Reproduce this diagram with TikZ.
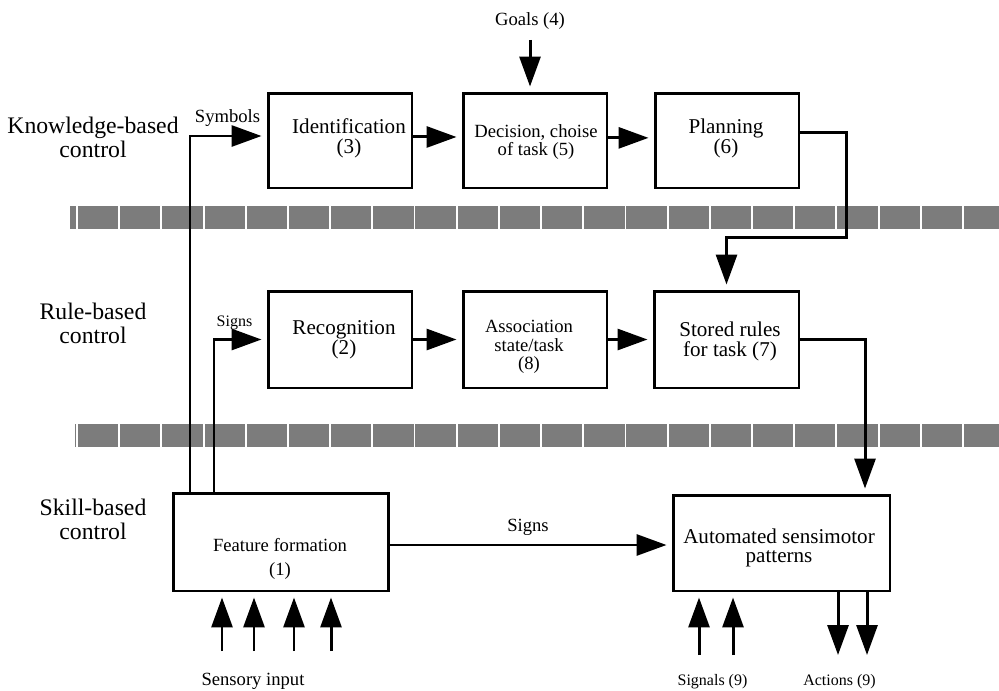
\documentclass[tikz,border=0pt]{standalone}
\usepackage{fontspec}
\setmainfont{Liberation Serif}
\usetikzlibrary{arrows.meta}
\definecolor{barfill}{RGB}{124,124,124}
\newcommand{\boxlines}{\lineskiplimit=-20pt\relax}

\begin{document}
\begin{tikzpicture}[x=0.02cm, y=-0.02cm, line width=1.7pt,
  >={Triangle[length=0.6cm, width=0.42cm]},
  box/.style={draw, line width=1.7pt, inner sep=0pt},
  lvl/.style={align=center, font=\fontsize{13.5}{13.7}\selectfont\boxlines},
  big/.style={align=center, font=\fontsize{12}{#1}\selectfont\boxlines},
  big/.default=12pt,
  mid/.style={align=center, font=\fontsize{10.6}{#1}\selectfont\boxlines},
  mid/.default=12pt,
  sml/.style={font=\fontsize{9.1}{10}\selectfont},
  arr/.style={->, shorten >=0.1cm},
  ]
  \useasboundingbox (0,0) rectangle (999,690);
  % level names
  \node[lvl] (knowledge) at (93,137) {Knowledge-based\\control};
  \node[lvl] (rule) at (93,323.5) {Rule-based\\control};
  \node[lvl] (skill) at (93,519.5) {Skill-based\\control};
  % boxes : knowledge level
  \node[box, minimum width=2.88cm, minimum height=1.9cm] (ident) at (340,140.5) {};
  \node[box, minimum width=2.88cm, minimum height=1.9cm] (decide) at (535,140.5) {};
  \node[box, minimum width=2.88cm, minimum height=1.9cm] (plan) at (727,140.5) {};
  \node[big=11.2pt] (identtxt) at (349,138) {Identification\\(3)};
  \node[mid=10.6pt] (decidetxt) at (536,142) {Decision, choise\\of task (5)};
  \node[big=11.4pt] (plantxt) at (726,138) {Planning\\(6)};
  % boxes : rule level
  \node[box, minimum width=2.88cm, minimum height=1.94cm] (recog) at (340,339.5) {};
  \node[box, minimum width=2.88cm, minimum height=1.94cm] (assoc) at (535,339.5) {};
  \node[box, minimum width=2.9cm, minimum height=1.94cm] (stored) at (726.5,339.5) {};
  \node[big=11.2pt] (recogtxt) at (344,340) {Recognition\\(2)};
  \node[mid=10.4pt] (assoctxt) at (529,347) {Association\\state/task\\(8)};
  \node[big=11pt] (storedtxt) at (730,341.5) {Stored rules\\for task (7)};
  % boxes : skill level
  \node[box, minimum width=4.32cm, minimum height=1.96cm] (feature) at (281,542) {};
  \node[box, minimum width=4.34cm, minimum height=1.92cm] (auto) at (781.5,543) {};
  \node[mid=13.7pt] (featuretxt) at (280,558.5) {Feature formation\\(1)};
  \node[big=11.2pt] (autotxt) at (779,548) {Automated sensimotor\\patterns};
  % labels
  \node[mid, anchor=base] (symbols) at (227.5,122) {Symbols};
  \node[sml, anchor=base] (signsa) at (234.5,326) {Signs};
  \node[mid, anchor=base] (goals) at (530,25) {Goals (4)};
  \node[mid, anchor=base] (signsb) at (528,531) {Signs};
  \node[mid, anchor=base] (sensory) at (253,685) {Sensory input};
  \node[sml, anchor=base] (signals) at (712.5,685) {Signals (9)};
  \node[sml, anchor=base] (actions) at (839.5,685) {Actions (9)};
  % separating bars
  \foreach \y/\x in {206/70,424/75} {
    \fill[barfill] (\x,\y) rectangle (999,{\y+22.5});
    \foreach \k in {0,...,21}
      \draw[white, line width=1.1pt] ({77+\k*42.19},\y) -- ++(0,22.5);
  }
  % knowledge level
  \coordinate (symb) at (190,136);
  \draw[arr] (feature.north -| symb) |- (ident.west |- symb);
  \draw[arr] ([yshift=2pt]ident.east) -- ([yshift=2pt]decide.west);
  \draw[arr] ([yshift=1.5pt]decide.east) -- ([yshift=1.5pt]plan.west);
  \draw[arr] ([yshift=-2pt]goals.south) -- (decide.north -| goals.south);
  \coordinate (down) at (846,237);
  \draw[arr] ([yshift=4.3pt]plan.east) -| (down) -| (stored.north);
  % rule level
  \coordinate (sgn) at (214,339.5);
  \draw[arr] (feature.north -| sgn) |- (recog.west);
  \draw[arr] (recog) -- (assoc);
  \draw[arr] (assoc) -- (stored);
  \coordinate (right) at (865,0);
  \draw[arr] (stored.east) -| (auto.north -| right);
  % skill level
  \draw[arr] ([yshift=-1.7pt]feature.east) -- ([yshift=-1.7pt]feature.east -| auto.west);
  \foreach \x [count=\i] in {222,254,294,331} {
    \coordinate (sens\i) at (\x,651);
    \draw[arr] (sens\i) -- (feature.south -| sens\i);
  }
  \foreach \x [count=\i] in {699,733} {
    \coordinate (sig\i) at (\x,655);
    \draw[arr] (sig\i) -- (auto.south -| sig\i);
  }
  \foreach \x [count=\i] in {838,867} {
    \coordinate (act\i) at (\x,655);
    \draw[->] (auto.south -| act\i) -- (act\i);
  }
\end{tikzpicture}
\end{document}
